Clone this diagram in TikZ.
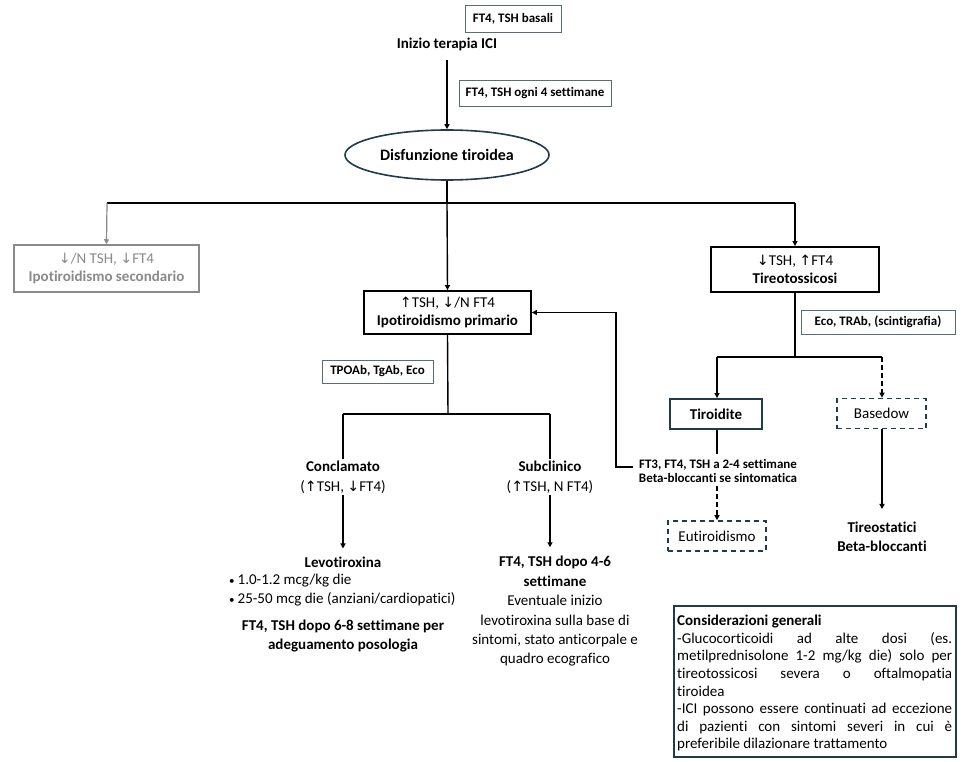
\documentclass[tikz,border=0pt]{standalone}
\usepackage{fontspec}
\setmainfont{Carlito}[Ligatures=NoCommon]
\newfontfamily\arrowfont{DejaVu Sans}[Scale=0.95]
\usetikzlibrary{arrows.meta,shapes.geometric,calc}
\newcommand{\upar}{{\arrowfont ↑}}
\newcommand{\dnar}{{\arrowfont ↓}}
\definecolor{slate}{HTML}{203B4A}
\definecolor{lblcol}{HTML}{5B6B78}
\definecolor{grcol}{HTML}{8A8A8A}
\tikzset{
  conn/.style={line width=1.4pt,black},
  arr/.style={conn,-{Triangle[length=5pt,width=5pt]}},
  lbl/.style={draw=lblcol,line width=0.8pt,font=\fontsize{13}{15}\selectfont\bfseries,inner sep=2pt},
  mainbox/.style={draw=black,line width=1.8pt,align=center,font=\fontsize{15}{18}\selectfont,inner sep=2pt},
  slatebox/.style={draw=slate,line width=1.8pt,align=center,font=\fontsize{15}{18}\selectfont,inner sep=2pt},
  dbox/.style={draw=slate,line width=1.6pt,dash pattern=on 5pt off 4pt,align=center,font=\fontsize{15}{18}\selectfont,inner sep=2pt},
  txt/.style={align=center,font=\fontsize{15}{19.5}\selectfont,inner sep=1pt},
}
\begin{document}
\begin{tikzpicture}[x=1pt,y=-1pt]
\useasboundingbox[fill=white] (0,0) rectangle (964,762);

% top
\node[lbl,minimum width=96,minimum height=27] (basali) at (513,18.5) {FT4, TSH basali};
\node[txt,font=\fontsize{15}{18}\selectfont\bfseries] (ici) at (447,44) {Inizio terapia ICI};
\node[lbl,minimum width=152,minimum height=26] (ogni) at (535,93) {FT4, TSH ogni 4 settimane};
\node[ellipse,draw=slate,line width=1.6pt,minimum width=204,minimum height=50,inner sep=0pt,font=\fontsize{16}{18}\selectfont\bfseries] (disf) at (447,155) {Disfunzione tiroidea};
\draw[arr] ([yshift=-8pt]ici.south) -- (disf.north);

% level 1 branching
\coordinate (b1) at (447,203);
\coordinate (bl) at (107,203);
\coordinate (br) at (795,203);
\draw[conn] (disf.south) -- (b1);
\draw[conn] (bl) -- (br);

\node[mainbox,draw=grcol,text=grcol,line width=1.5pt,minimum width=185,minimum height=47] (sec) at (106.5,268.5) {\dnar/N TSH, \dnar FT4\\\textbf{Ipotiroidismo secondario}};
\node[mainbox,minimum width=167,minimum height=43] (prim) at (447.5,312.5) {\upar TSH, \dnar/N FT4\\\textbf{Ipotiroidismo primario}};
\node[mainbox,minimum width=168,minimum height=45] (tireo) at (795,269.5) {\dnar TSH, \upar FT4\\\textbf{Tireotossicosi}};

\draw[arr,draw=grcol,fill=grcol,line width=1.2pt] (bl) -- (sec.north);
\draw[arr] (b1) -- (prim.north);
\draw[arr] (br) -- (tireo.north);

% primary branch
\node[lbl,minimum width=111,minimum height=23] (tpo) at (377.5,371.5) {TPOAb, TgAb, Eco};
\coordinate (p1) at (448,414);
\coordinate (pl) at (343,414);
\coordinate (pr) at (550,414);
\draw[conn] (prim.south) -- (p1);
\draw[conn] (pl) -- (pr);

\node[txt,font=\fontsize{15}{20}\selectfont] (concl) at (343,477) {\textbf{Conclamato}\\(\upar TSH, \dnar FT4)};
\node[txt,font=\fontsize{15}{20}\selectfont] (subc) at (550,477) {\textbf{Subclinico}\\(\upar TSH, N FT4)};
\draw[conn] (pl) -- (concl.north);
\draw[conn] (pr) -- (subc.north);

\node[txt,font=\fontsize{15}{18}\selectfont\bfseries] (levo) at (343,562) {Levotiroxina};
\draw[arr] (concl.south) -- ([yshift=7pt]levo.north);
\node[txt,align=left,anchor=west,font=\fontsize{15}{18.5}\selectfont] (bul) at (228,590) {{\fontsize{11}{12}\selectfont\textbullet}\hspace{3pt}1.0-1.2 mcg/kg die\\{\fontsize{11}{12}\selectfont\textbullet}\hspace{3pt}25-50 mcg die (anziani/cardiopatici)};
\node[txt,font=\fontsize{15}{19}\selectfont\bfseries] (dopo68) at (343,636) {FT4, TSH dopo 6-8 settimane per\\adeguamento posologia};

\node[txt,font=\fontsize{15}{19.4}\selectfont] (subt) at (555,611.5) {\textbf{FT4, TSH dopo 4-6}\\\textbf{settimane}\\Eventuale inizio\\levotiroxina sulla base di\\sintomi, stato anticorpale e\\quadro ecografico};
\draw[arr] (subc.south) -- ([yshift=8pt]subt.north -| subc.south);

% thyrotoxicosis branch
\node[lbl,minimum width=154,minimum height=24] (eco) at (878,322) {Eco, TRAb, (scintigrafia)};
\coordinate (t1) at (795,357);
\coordinate (tl) at (717,357);
\coordinate (tr) at (882,357);
\draw[conn] (tireo.south) -- (t1);
\draw[conn] (tl) -- (tr);

\node[slatebox,minimum width=92,minimum height=30,font=\fontsize{15}{18}\selectfont\bfseries] (tiro) at (716,414) {Tiroidite};
\node[dbox,minimum width=89,minimum height=30] (based) at (881.5,413.5) {Basedow};
\draw[arr] (tl) -- (tiro.north -| tl);
\draw[arr,dash pattern=on 5pt off 3pt] (tr) -- (based.north -| tr);

\node[txt,font=\fontsize{13}{14.5}\selectfont\bfseries] (ft3) at (718,471) {FT3, FT4, TSH a 2-4 settimane\\Beta-bloccanti se sintomatica};
\draw[conn] (tiro.south -| tl) -- ([yshift=4pt]ft3.north -| tl);
\coordinate (fb) at (616,467);
\draw[arr] ([xshift=-5pt]ft3.west |- fb) -- (fb) |- (prim.east);

\node[dbox,minimum width=98,minimum height=30] (euti) at (717,536) {Eutiroidismo};
\draw[arr,dash pattern=on 5pt off 3pt] ([yshift=-2pt]ft3.south -| tl) -- (euti.north -| tl);

\node[txt,font=\fontsize{15}{19}\selectfont\bfseries] (tstat) at (882,537) {Tireostatici\\Beta-bloccanti};
\draw[arr] (based.south -| tr) -- ([yshift=12pt]tstat.north -| tr);

% general considerations
\node[draw=slate,line width=1.8pt,anchor=north west,minimum width=282,minimum height=151,inner sep=0pt] (cons) at (673,605) {};
\node[anchor=north west,inner sep=0pt] (constxt) at ([xshift=4pt,yshift=-10pt]cons.north west) {\parbox[t]{275pt}{\fontsize{15}{17.6}\selectfont\rightskip=0pt\parindent=0pt\hyphenpenalty=10000\emergencystretch=3em
\textbf{Considerazioni generali}\\
-Glucocorticoidi ad alte dosi (es.\linebreak metilprednisolone 1-2 mg/kg die) solo per\linebreak tireotossicosi severa o oftalmopatia\linebreak tiroidea\\
-ICI possono essere continuati ad eccezione\linebreak di pazienti con sintomi severi in cui è\linebreak preferibile dilazionare trattamento}};
\end{tikzpicture}
\end{document}
